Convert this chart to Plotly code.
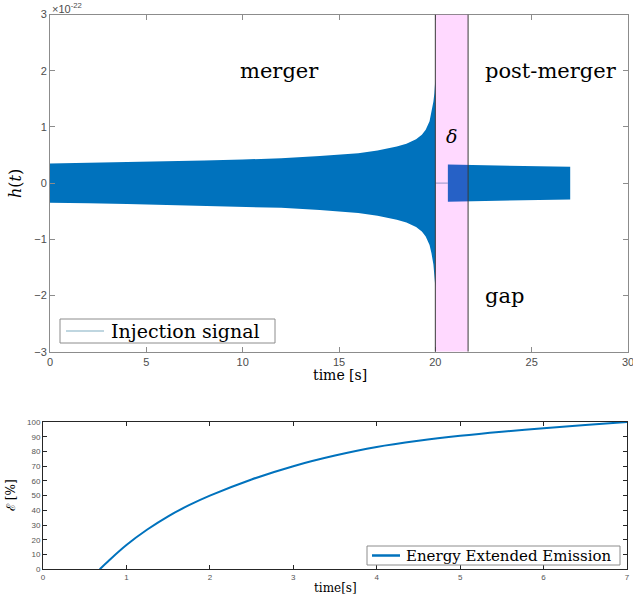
import plotly.graph_objects as go

# ---------------- data ----------------
# merger (inspiral) envelope of the injection signal, units of 1e-22
t_merger = [0, 2, 4, 6, 8, 10, 12, 14, 15, 16, 17, 18, 18.5, 19, 19.3, 19.5, 19.7, 19.8, 19.9, 19.95, 20.0]
amp_merger = [0.35, 0.36, 0.37, 0.38, 0.40, 0.42, 0.44, 0.48, 0.50, 0.53, 0.58, 0.65, 0.70, 0.78, 0.86, 0.95, 1.10, 1.25, 1.45, 1.60, 1.85]
# post-merger envelope
t_post = [20.65, 27.0]
amp_post = [0.33, 0.29]
# signal is zero inside the gap before the post-merger starts
t_zero = [20.0, 20.65]
h_zero = [0.0, 0.0]
# gap (delta) boundaries
gap_bounds = [20.0, 21.7]

# energy of the extended emission [%]
t_energy = [0.68, 0.8, 1.0, 1.25, 1.5, 1.75, 2.0, 2.5, 3.0, 3.5, 4.0, 4.5, 5.0, 5.5, 6.0, 6.5, 7.0]
e_energy = [0, 6.5, 16.5, 27, 36, 43.5, 50, 61, 70, 77.2, 83, 87.2, 90.6, 93.4, 95.8, 98, 100]

top_yticks = [-3, -2, -1, 0, 1, 2, 3]
top_xticks = [0, 5, 10, 15, 20, 25, 30]
bot_yticks = list(range(0, 101, 10))
bot_xticks = list(range(0, 8))

legend_top = "Injection signal"
legend_bot = "Energy Extended Emission"

# ---------------- figure ----------------
W, H = 633, 597
BLUE = "#0072BD"
SIG_LINE = "rgba(60,130,160,0.65)"
SERIF = "DejaVu Serif"
SANS = "Liberation Sans"


def px_x(p):
    return p / W


def px_y(p):
    return 1 - p / H


fig = go.Figure()

# merger envelope as filled band
fig.add_trace(go.Scatter(
    x=t_merger + t_merger[::-1],
    y=amp_merger + [-a for a in amp_merger[::-1]],
    fill="toself", fillcolor=BLUE, line=dict(width=0, color=BLUE),
    mode="lines", showlegend=False, hoverinfo="skip", name=legend_top,
    xaxis="x", yaxis="y"))
# post-merger envelope
fig.add_trace(go.Scatter(
    x=t_post + t_post[::-1],
    y=amp_post + [-a for a in amp_post[::-1]],
    fill="toself", fillcolor=BLUE, line=dict(width=0, color=BLUE),
    mode="lines", showlegend=False, hoverinfo="skip", name=legend_top,
    xaxis="x", yaxis="y"))
# zero signal in the gap
fig.add_trace(go.Scatter(
    x=t_zero, y=h_zero, mode="lines",
    line=dict(width=1, color=SIG_LINE),
    name=legend_top, showlegend=False,
    xaxis="x", yaxis="y"))

# energy curve
fig.add_trace(go.Scatter(
    x=t_energy, y=e_energy, mode="lines", line=dict(width=2, color=BLUE, shape="spline"),
    name=legend_bot, showlegend=False,
    xaxis="x2", yaxis="y2"))

# gap band + boundaries
fig.add_shape(type="rect", xref="x", yref="y", x0=gap_bounds[0], x1=gap_bounds[1],
              y0=top_yticks[0], y1=top_yticks[-1], fillcolor="rgba(255,0,255,0.15)",
              line=dict(width=0), layer="above")
for gb in gap_bounds:
    fig.add_shape(type="line", xref="x", yref="y", x0=gb, x1=gb,
                  y0=top_yticks[0], y1=top_yticks[-1],
                  line=dict(width=1, color="#3a3a3a"), layer="above")

# legend boxes (MATLAB style)
fig.add_shape(type="rect", xref="paper", yref="paper",
              x0=px_x(60), x1=px_x(275), y0=px_y(343), y1=px_y(319),
              fillcolor="white", line=dict(width=1, color="#8c8c8c"), layer="above")
fig.add_shape(type="line", xref="paper", yref="paper",
              x0=px_x(66), x1=px_x(104), y0=px_y(331), y1=px_y(331),
              line=dict(width=1, color=SIG_LINE), layer="above")
fig.add_shape(type="rect", xref="paper", yref="paper",
              x0=px_x(367), x1=px_x(620), y0=px_y(565), y1=px_y(546),
              fillcolor="white", line=dict(width=1, color="#8c8c8c"), layer="above")
fig.add_shape(type="line", xref="paper", yref="paper",
              x0=px_x(372), x1=px_x(400), y0=px_y(555.5), y1=px_y(555.5),
              line=dict(width=2.5, color=BLUE), layer="above")

top_axis = dict(showline=True, mirror="ticks", linecolor="#8c8c8c", linewidth=1,
                ticks="inside", ticklen=5, tickcolor="#8c8c8c", showgrid=False,
                zeroline=False, tickfont=dict(family=SANS, size=11, color="#4d4d4d"),
                automargin=False, ticklabeloverflow="allow")
bot_axis = dict(showline=True, mirror="ticks", linecolor="#262626", linewidth=1,
                ticks="inside", ticklen=4, tickcolor="#262626", showgrid=False,
                zeroline=False, tickfont=dict(family=SANS, size=8, color="#555555"),
                automargin=False, ticklabeloverflow="allow")

fig.update_layout(
    width=W, height=H,
    margin=dict(l=0, r=0, t=0, b=0),
    paper_bgcolor="white", plot_bgcolor="white",
    showlegend=False,
    xaxis=dict(domain=[px_x(50), px_x(628)], range=[0, 30], tickvals=top_xticks,
               anchor="y", **top_axis),
    yaxis=dict(domain=[px_y(351.7), px_y(14.5)], range=[-3, 3], tickvals=top_yticks,
               anchor="x", **top_axis),
    xaxis2=dict(domain=[px_x(43), px_x(627)], range=[0, 7], tickvals=bot_xticks,
                anchor="y2", **bot_axis),
    yaxis2=dict(domain=[px_y(569.3), px_y(422)], range=[0, 100], tickvals=bot_yticks,
                anchor="x2", **bot_axis),
)

ann = [
    dict(text="merger", x=11.93, y=2.0, xref="x", yref="y", xanchor="center",
         font=dict(family=SERIF, size=21)),
    dict(text="post-merger", x=22.47, y=2.0, xref="x", yref="y", xanchor="left",
         font=dict(family=SERIF, size=21)),
    dict(text="<i>δ</i>", x=20.85, y=0.84, xref="x", yref="y", xanchor="center",
         font=dict(family=SERIF, size=19)),
    dict(text="gap", x=22.47, y=-2.0, xref="x", yref="y", xanchor="left",
         font=dict(family=SERIF, size=21)),
    dict(text="×10<sup>-22</sup>", x=px_x(50), y=px_y(8), xref="paper", yref="paper",
         xanchor="left", font=dict(family=SANS, size=11, color="#4d4d4d")),
    dict(text="<i>h</i>(<i>t</i>)", x=px_x(15), y=px_y(183), xref="paper", yref="paper",
         textangle=-90, xanchor="center", font=dict(family=SERIF, size=16)),
    dict(text="time [s]", x=px_x(340), y=px_y(375), xref="paper", yref="paper",
         xanchor="center", font=dict(family=SERIF, size=14)),
    dict(text="ℰ [%]", x=px_x(11), y=px_y(495), xref="paper", yref="paper",
         textangle=-90, xanchor="center", font=dict(family=SERIF, size=12)),
    dict(text="time[s]", x=px_x(335), y=px_y(588), xref="paper", yref="paper",
         xanchor="center", font=dict(family=SERIF, size=12)),
    dict(text=legend_top, x=px_x(109), y=px_y(331), xref="paper", yref="paper",
         xanchor="left", font=dict(family=SERIF, size=19)),
    dict(text=legend_bot, x=px_x(404), y=px_y(555.5), xref="paper", yref="paper",
         xanchor="left", font=dict(family=SERIF, size=15)),
]
for a in ann:
    a.setdefault("showarrow", False)
    a.setdefault("yanchor", "middle")
    a["font"].setdefault("color", "black")
fig.update_layout(annotations=ann)

fig.write_html("out.html")
